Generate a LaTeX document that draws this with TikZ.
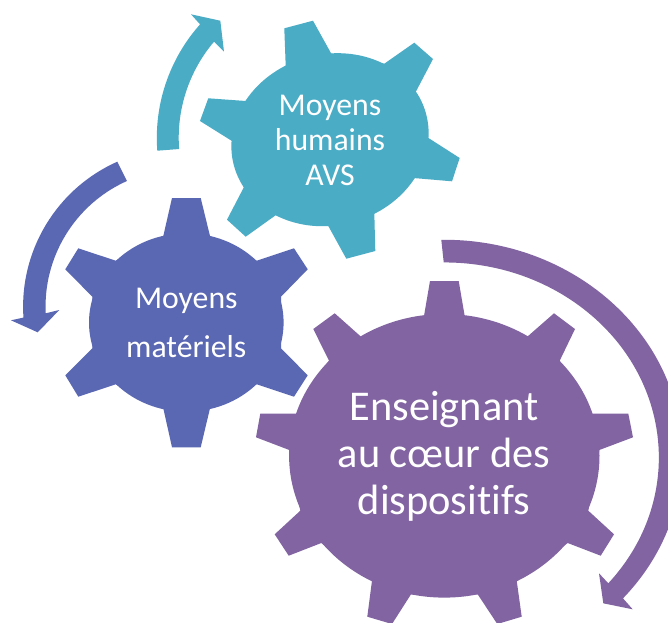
\documentclass[tikz,border=0pt]{standalone}
\usepackage{fontspec}
\setmainfont[Ligatures=NoCommon]{Carlito}
\definecolor{gearpurple}{HTML}{8164A1}
\definecolor{gearblue}{HTML}{5A67B2}
\definecolor{gearteal}{HTML}{4BACC6}
\newcommand{\pxu}{0.75pt}
\tikzset{
  label/.style={text=white,align=center,inner sep=0pt,anchor=center},
  toplabel/.style={label,font=\fontsize{23.8pt}{26.2pt}\selectfont},
  midlabel/.style={label,font=\fontsize{23.8pt}{36.4pt}\selectfont},
  biglabel/.style={label,font=\fontsize{31.8pt}{35.2pt}\selectfont}
}
\begin{document}
\begin{tikzpicture}[x=\pxu,y=-\pxu]
\useasboundingbox (0,0) rectangle (668,622);
\clip (0,0) rectangle (668,622);
\fill[white] (0,0) rectangle (668,622);

% teal gear
\fill[gearteal] (330,139.7) ellipse [x radius=99.5*\pxu,y radius=85.5*\pxu,rotate=15];
\fill[gearteal] (285.7,65.7) -- (284.3,28.3) -- (313,20.7) -- (331.3,53.7)
  -- (384.3,63.7) -- (414.3,42.7) -- (433,59) -- (415.7,92)
  -- (428,137.7) -- (459.7,158) -- (452,181.3) -- (413.3,178)
  -- (374.3,212.7) -- (375.3,251) -- (346.3,258.7) -- (328.3,226)
  -- (276,215) -- (245.7,236.7) -- (227,219.7) -- (244,187)
  -- (232,141) -- (200,121) -- (208.3,98.3) -- (246,101) -- cycle;
% teal arrow
\fill[gearteal] (157.3,150.7) arc [start angle=184.3,end angle=138.3,radius=170.7*\pxu]
  -- (191,14.3) -- (220.3,20.7) -- (224,51.7) -- (214,41.7)
  arc [start angle=139.7,end angle=184.3,radius=148.7*\pxu] -- cycle;

% blue gear
\fill[gearblue] (186.3,322.5) ellipse [x radius=97.3*\pxu,y radius=89.2*\pxu];
\fill[gearblue] (163.3,236) -- (172,198) -- (200.7,198) -- (210,236)
  -- (256.7,260.7) -- (294,248.3) -- (307.7,269.3) -- (281,296.7)
  -- (281,348.3) -- (307.7,375.3) -- (294,396.7) -- (256.7,384.3)
  -- (210,408.3) -- (200.7,447.3) -- (172,447.3) -- (163.3,408.3)
  -- (115.7,384.3) -- (78.3,396.7) -- (65.3,375.3) -- (92.3,348.3)
  -- (92.3,296.7) -- (65.3,269.3) -- (78.3,248.3) -- (115.7,260.7) -- cycle;
% blue arrow
\fill[gearblue] (117.3,161.7) arc [start angle=114,end angle=183.9,radius=158.8*\pxu]
  -- (11,320.3) -- (37.7,332.3) -- (59.3,310) -- (45.7,313.3)
  arc [start angle=182.8,end angle=114.1,radius=137.6*\pxu] -- cycle;

% purple gear
\fill[gearpurple] (444.3,455.8) ellipse [x radius=155.2*\pxu,y radius=141.8*\pxu];
\fill[gearpurple] (424,316) -- (430,281) -- (458.7,281) -- (464.7,316)
  -- (527.3,336.7) -- (554,313.3) -- (575,329) -- (559.7,360.7)
  -- (592,413.7) -- (628.3,413.7) -- (633,437.3) -- (599.3,450)
  -- (588.3,510.7) -- (614,534.3) -- (600.7,555.7) -- (567.7,543)
  -- (516.7,580.7) -- (521.7,616.7) -- (497.3,624) -- (477.7,594.3)
  -- (411,594.3) -- (392,624) -- (367.3,616.7) -- (372,580.7)
  -- (321.3,543) -- (288.7,555.7) -- (274.7,534.3) -- (300.3,510.7)
  -- (289.3,450) -- (256,437.3) -- (260.3,413.7) -- (296.7,413.7)
  -- (329,360.7) -- (313.3,329) -- (334.7,313.3) -- (361,336.7) -- cycle;
% purple arrow
\fill[gearpurple] (441.3,239.8) arc [start angle=90.7,end angle=-41.3,x radius=238*\pxu,y radius=216*\pxu]
  -- (632.7,609.3) -- (603.3,603.3) -- (599,573.3) -- (608.3,583.3)
  arc [start angle=-40.2,end angle=90.3,x radius=214*\pxu,y radius=195*\pxu] -- cycle;

% labels
\node[toplabel] (humains) at (330,140) {Moyens\\humains\\AVS};
\node[midlabel] (materiels) at (186.3,323) {Moyens\\matériels};
\node[biglabel] (enseignant) at (444,456) {Enseignant\\au cœur des\\dispositifs};
\end{tikzpicture}
\end{document}
